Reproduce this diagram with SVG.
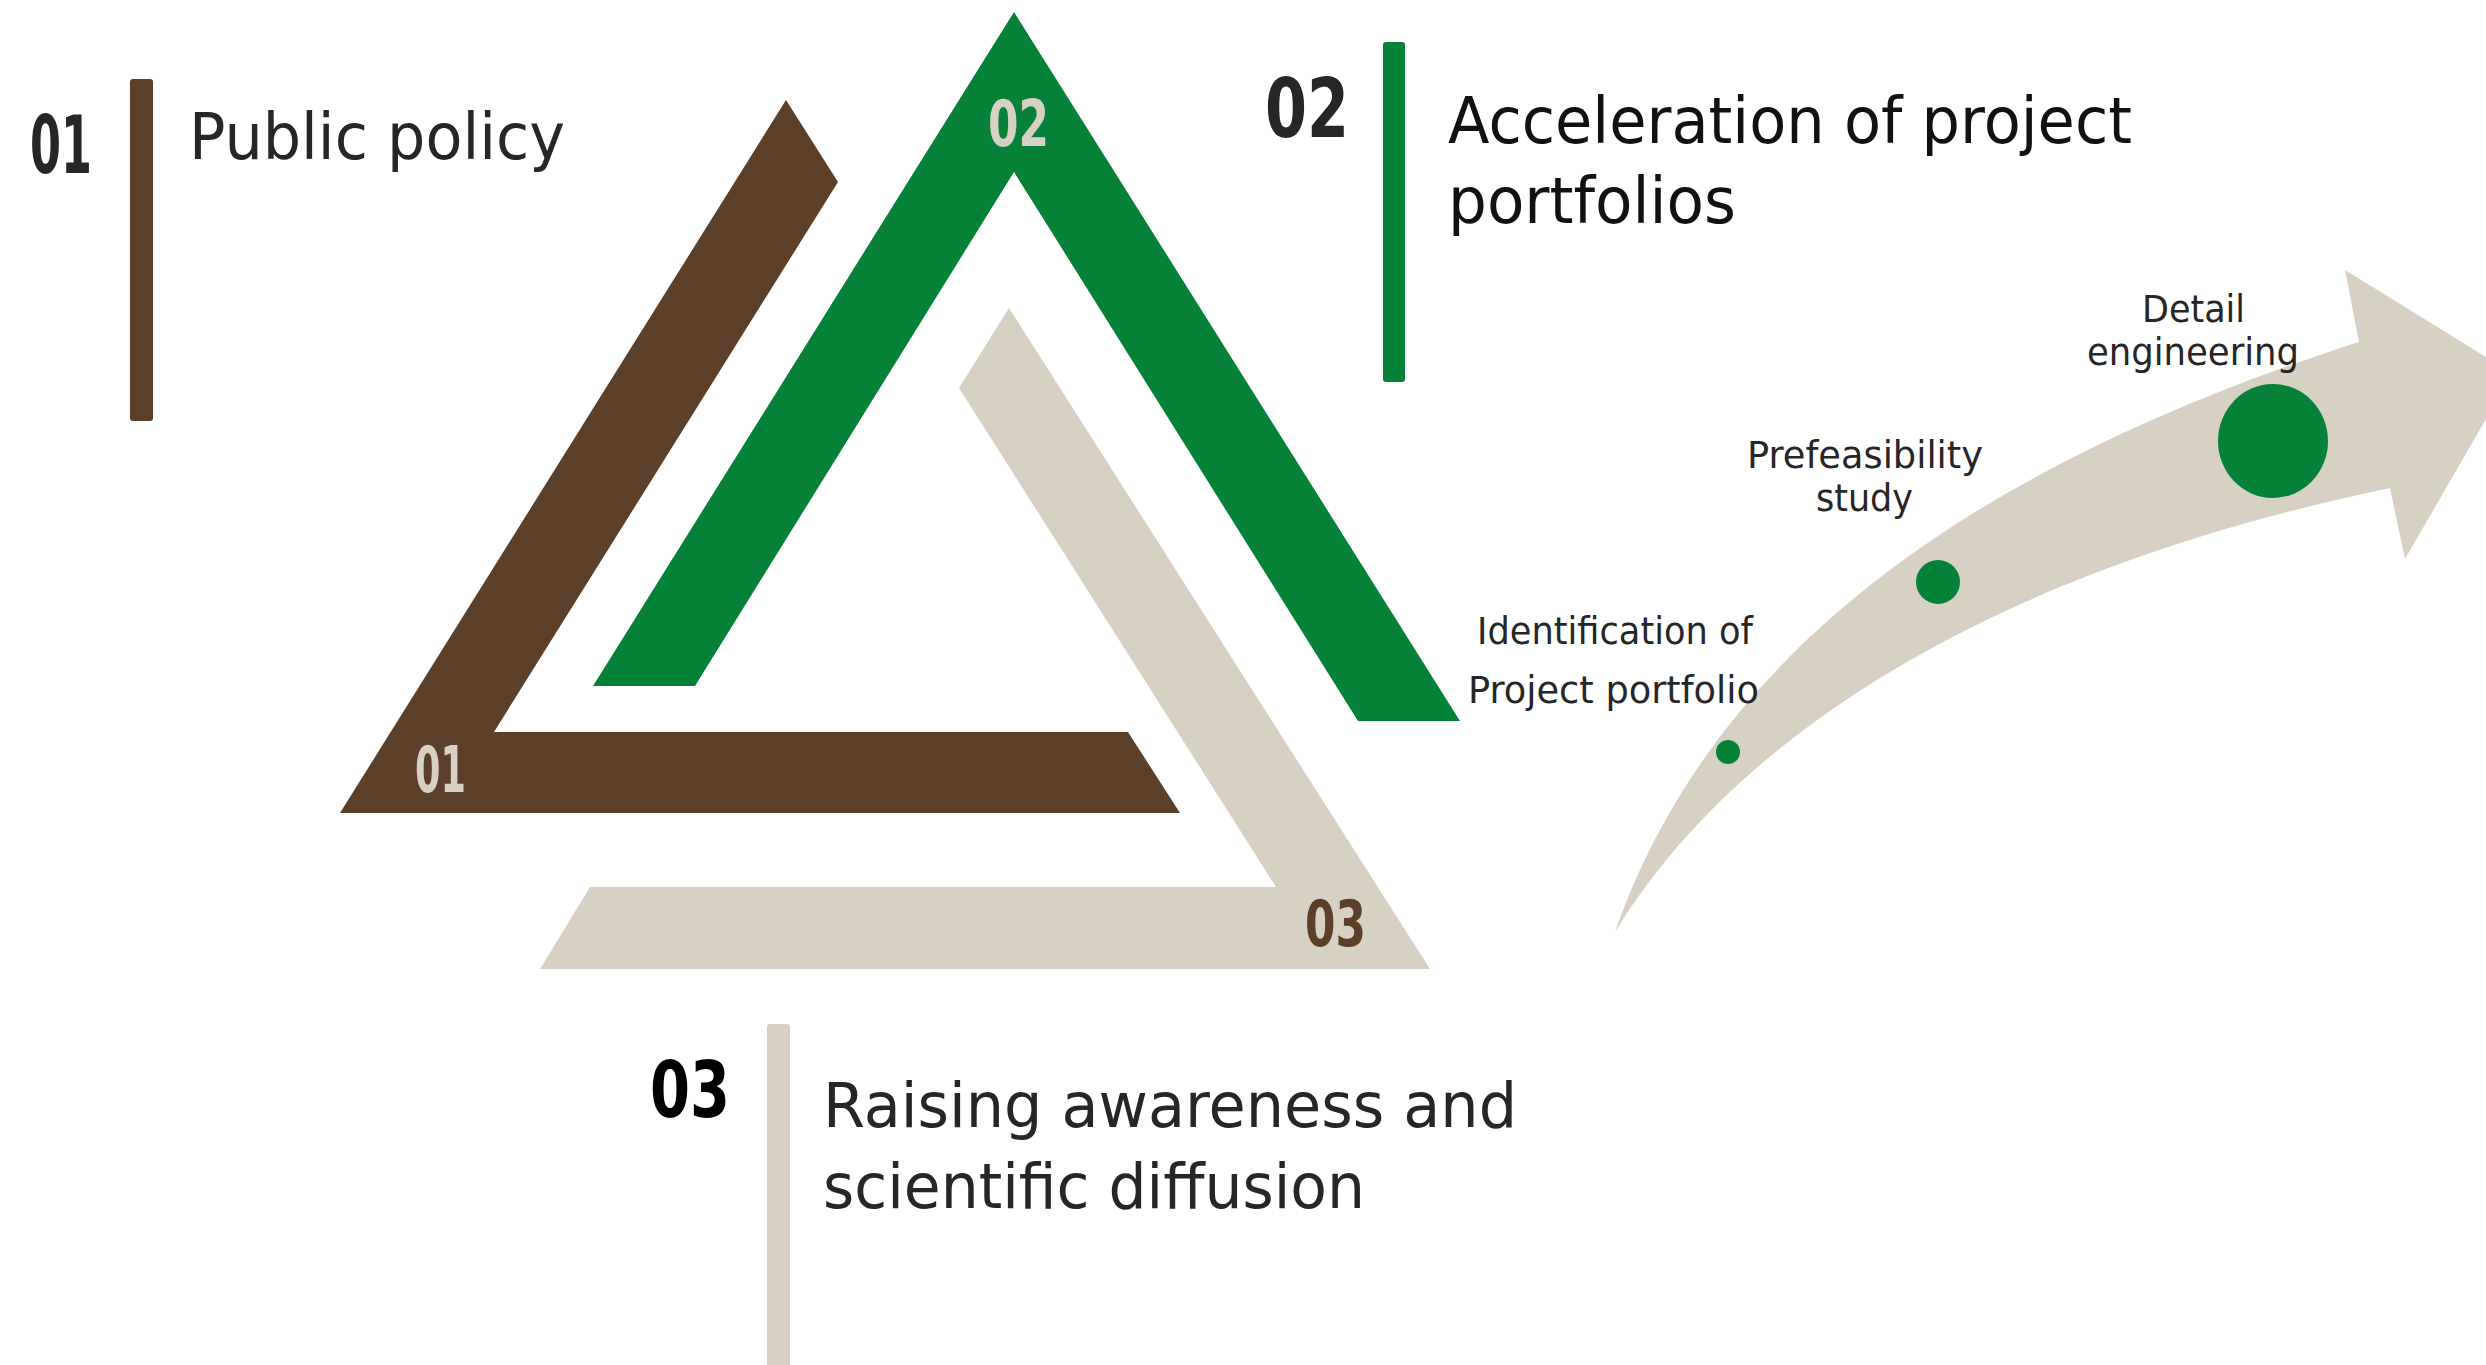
<svg xmlns="http://www.w3.org/2000/svg" width="2486" height="1365" viewBox="0 0 2486 1365">
<style>
.brown{fill:#5C3F28}
.green{fill:#058238}
.beige{fill:#D6D1C3}
.num{font-family:"DejaVu Sans","Liberation Sans",sans-serif;font-weight:bold}
.head{font-family:"DejaVu Sans","Liberation Sans",sans-serif;fill:#262626}
.lbl{font-family:"DejaVu Sans","Liberation Sans",sans-serif;fill:#262626;font-size:37px;text-anchor:start}
</style>
<rect width="2486" height="1365" fill="#FFFFFF"/>

<g id="triangle-01">
<polygon class="brown" points="786,100 838,182 494,732 1128,732 1180,813 340,813"/>
<text class="num" x="415" y="792" font-size="64" fill="#D6D1C3" textLength="51" lengthAdjust="spacingAndGlyphs">01</text>
</g>
<g id="triangle-02">
<polygon class="green" points="1014,12 1460,721 1358,721 1014,172 695,686 593,686"/>
<text class="num" x="988" y="146" font-size="64" fill="#D6D1C3" textLength="61" lengthAdjust="spacingAndGlyphs">02</text>
</g>
<g id="triangle-03">
<polygon class="beige" points="1009,308 1430,969 540,969 590,887 1276,887 959,388"/>
<text class="num" x="1305" y="946" font-size="64" fill="#5C3F28" textLength="61" lengthAdjust="spacingAndGlyphs">03</text>
</g>

<g id="item-01">
<text class="num" x="30" y="173" font-size="81" fill="#262626" textLength="62" lengthAdjust="spacingAndGlyphs">01</text>
<rect class="brown" x="130" y="79" width="23" height="342" rx="3"/>
<text class="head" x="189" y="159" font-size="64" textLength="376" lengthAdjust="spacingAndGlyphs">Public policy</text>
</g>

<g id="item-02">
<text class="num" x="1265" y="137" font-size="82" fill="#262626" textLength="84" lengthAdjust="spacingAndGlyphs">02</text>
<rect class="green" x="1383" y="42" width="22" height="340" rx="3"/>
<text class="head" x="1448" y="143" font-size="64" fill="#111111" style="fill:#111111" textLength="684" lengthAdjust="spacingAndGlyphs">Acceleration of project</text>
<text class="head" x="1448" y="223" font-size="64" style="fill:#111111" textLength="288" lengthAdjust="spacingAndGlyphs">portfolios</text>
</g>

<g id="item-03">
<text class="num" x="650" y="1117" font-size="78" fill="#000000" textLength="80" lengthAdjust="spacingAndGlyphs">03</text>
<rect class="beige" x="767" y="1024" width="23" height="350" rx="3"/>
<text class="head" x="823" y="1127" font-size="62" textLength="694" lengthAdjust="spacingAndGlyphs">Raising awareness and</text>
<text class="head" x="823" y="1208" font-size="62" textLength="542" lengthAdjust="spacingAndGlyphs">scientific diffusion</text>
</g>

<g id="connectors">
<path id="progress-arrow" class="beige" d="M1615,932 C1710,660 1960,470 2359,342 L2345,270 L2486,357 L2486,419 L2405,559 L2390,488 C1950,580 1720,760 1615,932 Z"/>
</g>

<g id="stage-identification">
<circle class="green" cx="1728" cy="752" r="12"/>
<text class="lbl" x="1477" y="644" textLength="276" lengthAdjust="spacingAndGlyphs">Identification of</text>
<text class="lbl" x="1468" y="703" textLength="291" lengthAdjust="spacingAndGlyphs">Project portfolio</text>
</g>
<g id="stage-prefeasibility">
<circle class="green" cx="1938" cy="582" r="22"/>
<text class="lbl" x="1747" y="468" textLength="236" lengthAdjust="spacingAndGlyphs">Prefeasibility</text>
<text class="lbl" x="1816" y="511" textLength="97" lengthAdjust="spacingAndGlyphs">study</text>
</g>
<g id="stage-detail">
<ellipse class="green" cx="2273" cy="441" rx="55" ry="57"/>
<text class="lbl" x="2142" y="322" textLength="103" lengthAdjust="spacingAndGlyphs">Detail</text>
<text class="lbl" x="2087" y="365" textLength="212" lengthAdjust="spacingAndGlyphs">engineering</text>
</g>
</svg>
